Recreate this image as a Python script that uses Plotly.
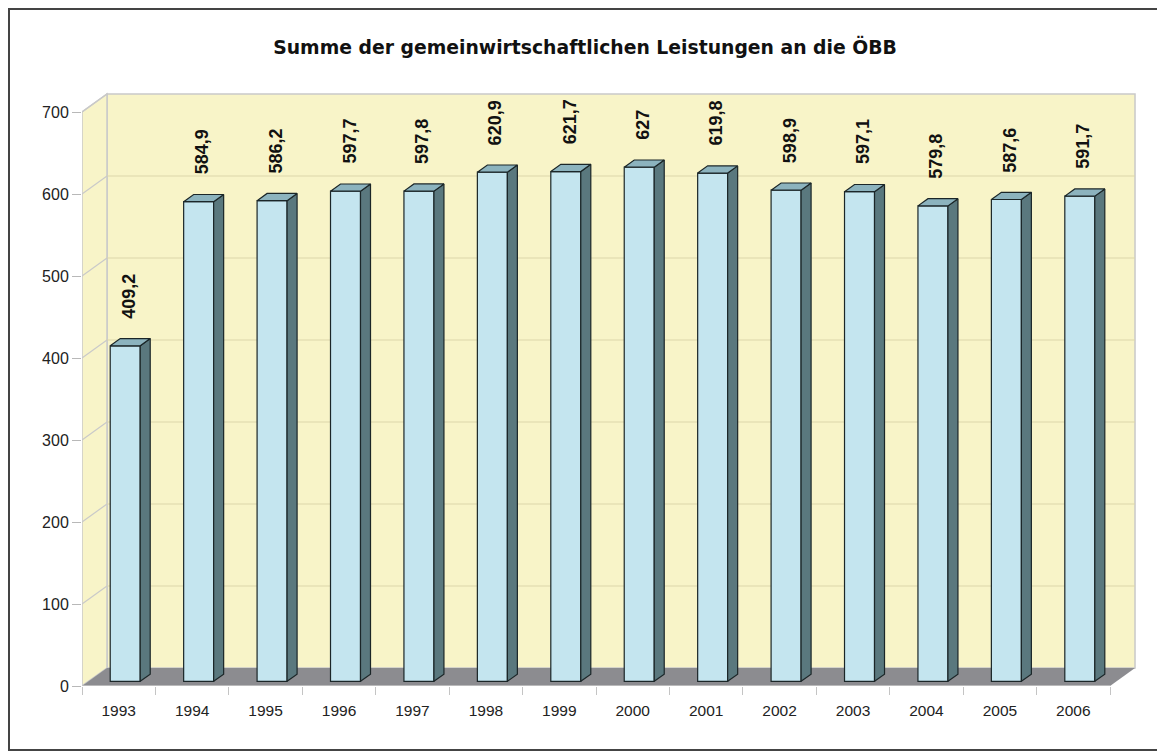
import plotly.graph_objects as go

# ---------------- data ----------------
years = ["1993", "1994", "1995", "1996", "1997", "1998", "1999",
         "2000", "2001", "2002", "2003", "2004", "2005", "2006"]
values = [409.2, 584.9, 586.2, 597.7, 597.8, 620.9, 621.7,
          627.0, 619.8, 598.9, 597.1, 579.8, 587.6, 591.7]
value_labels = ["409,2", "584,9", "586,2", "597,7", "597,8", "620,9", "621,7",
                "627", "619,8", "598,9", "597,1", "579,8", "587,6", "591,7"]
y_ticks = [0, 100, 200, 300, 400, 500, 600, 700]
title_text = "Summe der gemeinwirtschaftlichen Leistungen an die ÖBB"

# ---------------- geometry / style ----------------
OFF = 8                 # page body margin of the html page
W, H = 1165 - OFF, 755 - OFF
PLOT_LEFT, PLOT_RIGHT = 82 - OFF, 1140 - OFF
PLOT_TOP, PLOT_BOTTOM = 85 - OFF, 686 - OFF
PX_CAT = 73.43          # pixels per category
PX_VAL = 0.82           # pixels per value unit
plot_w = PLOT_RIGHT - PLOT_LEFT
plot_h = PLOT_BOTTOM - PLOT_TOP
x_range = [-0.5, -0.5 + plot_w / PX_CAT]
y_range = [0, plot_h / PX_VAL]
DX = 25 / PX_CAT        # depth offset (category units)
DY = 18 / PX_VAL        # depth offset (value units)
F = 0.26                # bar front depth fraction
D = 0.40                # bar depth fraction
BW = 30 / PX_CAT        # bar width
YMAX = y_ticks[-1]
n = len(years)
x_lo, x_hi = -0.5, n - 0.5

FRONT = "#c4e5ef"
TOP = "#8cb3be"
SIDE = "#5a787e"
EDGE = "#1b2628"
WALL = "#f8f4c8"
FLOOR = "#8c8c90"
WALL_EDGE = "#c9c9c9"
GRID = "#dcd6aa"


def px2paper_x(px):
    return (px - PLOT_LEFT) / plot_w


def px2paper_y(py):
    return (PLOT_BOTTOM - py) / plot_h


fig = go.Figure()

# bar front faces
xs_front = [i + F * DX for i in range(n)]
fig.add_trace(go.Bar(
    x=xs_front, y=values, base=F * DY, width=BW,
    marker=dict(color=FRONT, line=dict(color=EDGE, width=1.2)),
    hoverinfo="skip", showlegend=False,
))

# side and top faces
side_x, side_y, top_x, top_y = [], [], [], []
for i, v in enumerate(values):
    xl = xs_front[i] - BW / 2
    xr = xs_front[i] + BW / 2
    b = F * DY
    t = v + F * DY
    side_x += [xr, xr + D * DX, xr + D * DX, xr, xr, None]
    side_y += [b, b + D * DY, t + D * DY, t, b, None]
    top_x += [xl, xr, xr + D * DX, xl + D * DX, xl, None]
    top_y += [t, t, t + D * DY, t + D * DY, t, None]

fig.add_trace(go.Scatter(x=side_x, y=side_y, mode="lines", fill="toself",
                         fillcolor=SIDE, line=dict(color=EDGE, width=1.2),
                         hoverinfo="skip", showlegend=False))
fig.add_trace(go.Scatter(x=top_x, y=top_y, mode="lines", fill="toself",
                         fillcolor=TOP, line=dict(color=EDGE, width=1.2),
                         hoverinfo="skip", showlegend=False))

# value labels
for i, (v, lab) in enumerate(zip(values, value_labels)):
    fig.add_annotation(
        x=xs_front[i] + D * DX / 2 - 0.02, y=v + (F + D) * DY,
        text="<b>" + lab + "</b>", textangle=-90, showarrow=False,
        xanchor="center", yanchor="bottom", yshift=18,
        font=dict(family="Liberation Sans, Arial, sans-serif", size=18, color="#111"),
    )

shapes = []
# back wall
shapes.append(dict(type="rect", xref="x", yref="y", layer="below",
                   x0=x_lo + DX, x1=x_hi + DX, y0=DY, y1=YMAX + DY,
                   fillcolor=WALL, line=dict(color=WALL_EDGE, width=1.5)))
# left wall
shapes.append(dict(type="path", xref="x", yref="y", layer="below",
                   path=f"M {x_lo},0 L {x_lo + DX},{DY} L {x_lo + DX},{YMAX + DY} L {x_lo},{YMAX} Z",
                   fillcolor=WALL, line=dict(color=WALL_EDGE, width=1.5)))
# grid lines
for v in y_ticks[1:-1]:
    shapes.append(dict(type="line", xref="x", yref="y", layer="below",
                       x0=x_lo + DX, x1=x_hi + DX, y0=v + DY, y1=v + DY,
                       line=dict(color=GRID, width=1.2)))
for v in y_ticks[1:]:
    shapes.append(dict(type="line", xref="x", yref="y", layer="below",
                       x0=x_lo, x1=x_lo + DX, y0=v, y1=v + DY,
                       line=dict(color=WALL_EDGE, width=1.2)))
# floor
shapes.append(dict(type="path", xref="x", yref="y", layer="below",
                   path=f"M {x_lo},0 L {x_hi},0 L {x_hi + DX},{DY} L {x_lo + DX},{DY} Z",
                   fillcolor=FLOOR, line=dict(width=0)))
# front floor edge
shapes.append(dict(type="line", xref="x", yref="y", layer="below",
                   x0=x_lo, x1=x_hi, y0=0, y1=0,
                   line=dict(color=WALL_EDGE, width=1.5)))
# outer frame
shapes.append(dict(type="rect", xref="paper", yref="paper", layer="above",
                   x0=px2paper_x(1), x1=px2paper_x(1161 - OFF),
                   y0=px2paper_y(750 - OFF), y1=px2paper_y(1),
                   line=dict(color="#444", width=2), fillcolor="rgba(0,0,0,0)"))

fig.update_layout(
    width=W, height=H,
    margin=dict(l=PLOT_LEFT, r=W - PLOT_RIGHT, t=PLOT_TOP, b=H - PLOT_BOTTOM, pad=0),
    paper_bgcolor="white", plot_bgcolor="white",
    showlegend=False, shapes=shapes,
    title=dict(text=title_text, x=(585 - OFF) / W, xref="container", xanchor="center",
               y=1 - (47 - OFF) / H, yref="container", yanchor="middle",
               font=dict(family="DejaVu Sans", size=18.8, color="#111", weight="bold")),
    font=dict(family="Liberation Sans, Arial, sans-serif", color="#222"),
)
fig.update_xaxes(
    range=x_range, showgrid=False, zeroline=False, showline=False,
    tickmode="array", tickvals=list(range(n)), ticktext=years,
    ticks="outside", ticklen=10, tickcolor="rgba(0,0,0,0)",
    tickfont=dict(size=15.5, color="#222"),
    minor=dict(tickmode="array", tickvals=[i - 0.5 for i in range(n + 1)],
               ticks="outside", ticklen=8, tickcolor="#c4c4c4", tickwidth=1),
    fixedrange=True,
)
fig.update_yaxes(
    range=y_range, showgrid=False, zeroline=False, showline=False,
    tickmode="array", tickvals=y_ticks,
    ticks="outside", ticklen=9, tickcolor="#b8b8b8", tickwidth=1,
    tickfont=dict(size=16, color="#222"),
    fixedrange=True,
)

fig.write_html("out.html")
